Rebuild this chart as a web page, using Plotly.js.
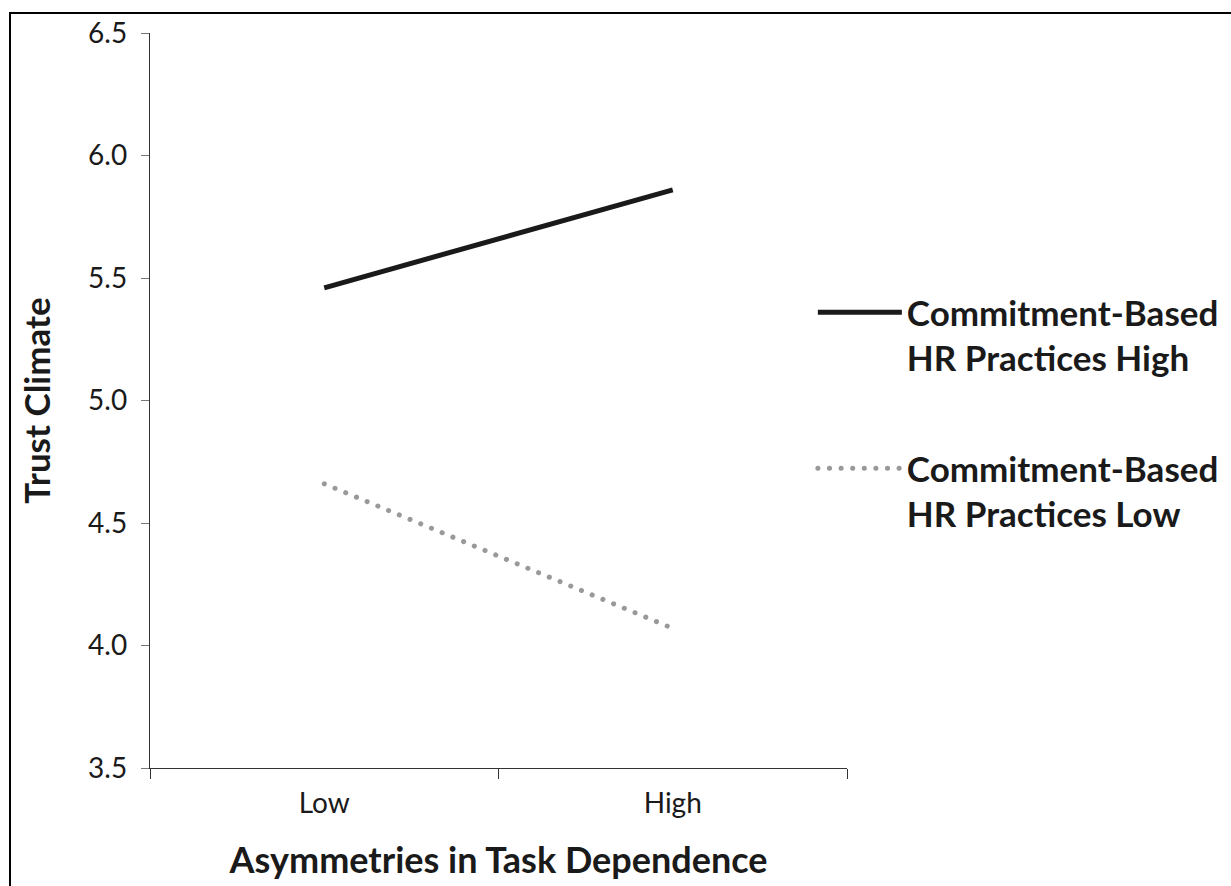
<!DOCTYPE html>
<html>
<head>
<meta charset="utf-8">
<script src="https://cdn.plot.ly/plotly-3.0.1.min.js"></script>
<style>
  html, body { margin: 0; padding: 0; background: #fff; overflow: hidden; }
  #chart { width: 1231px; height: 886px; }
  #frame { position: absolute; left: 9px; top: 12px; width: 1300px; height: 1000px;
           border-left: 2px solid #000; border-top: 2px solid #000; pointer-events: none; }
  #chart path.js-line[style*="0.1px"] { stroke-linecap: round; }
</style>
</head>
<body>
<div id="chart"></div>
<div id="frame"></div>
<script>
const categories = ['Low', 'High'];
const hrHigh = [5.46, 5.86];
const hrLow = [4.66, 4.07];
const seriesNames = ['Commitment-Based<br>HR Practices High', 'Commitment-Based<br>HR Practices Low'];
const yTicks = [3.5, 4.0, 4.5, 5.0, 5.5, 6.0, 6.5];
const yTickText = ['3.5', '4.0', '4.5', '5.0', '5.5', '6.0', '6.5'];

const FONT = 'Lato, "Noto Sans", sans-serif';

const traces = [
  {
    x: categories, y: hrHigh, name: seriesNames[0], type: 'scatter', mode: 'lines',
    line: {color: '#1a1a1a', width: 5}, legendgroup: 'a'
  },
  {
    x: categories, y: hrLow, name: seriesNames[1], type: 'scatter', mode: 'lines',
    line: {color: '#999999', width: 5, dash: '0.1px,11.5px'}, legendgroup: 'b'
  }
];

const layout = {
  width: 1231, height: 886,
  margin: {l: 150, r: 384, t: 33, b: 118, autoexpand: false},
  paper_bgcolor: '#fff', plot_bgcolor: '#fff',
  font: {family: FONT, color: '#1a1a1a'},
  showlegend: true,
  legend: {
    x: 0.951, xanchor: 'left', y: 0.66, yanchor: 'top',
    valign: 'top', itemwidth: 84, traceorder: 'grouped', tracegroupgap: 62,
    font: {family: FONT, size: 35, color: '#1a1a1a', weight: 'bold'},
    bgcolor: 'rgba(0,0,0,0)'
  },
  xaxis: {
    type: 'category', range: [-0.5, 1.5], tickson: 'boundaries',
    ticks: 'outside', ticklen: 10, tickcolor: '#333', tickwidth: 1,
    showline: true, linecolor: '#333', linewidth: 1.2,
    showgrid: false, zeroline: false, ticklabelstandoff: 10,
    tickfont: {family: FONT, size: 28, color: '#1a1a1a'},
    title: {text: '<b>Asymmetries in Task Dependence</b>', standoff: 30,
            font: {family: FONT, size: 36, color: '#1a1a1a'}},
    automargin: false, fixedrange: true
  },
  yaxis: {
    range: [3.5, 6.5], tickvals: yTicks, ticktext: yTickText,
    ticks: 'outside', ticklen: 8, tickcolor: '#777', tickwidth: 1,
    showline: true, linecolor: '#333', linewidth: 1.2,
    showgrid: false, zeroline: false, ticklabelstandoff: 8,
    tickfont: {family: FONT, size: 28, color: '#1a1a1a'},
    title: {text: '<b>Trust Climate</b>', standoff: 26,
            font: {family: FONT, size: 35, color: '#1a1a1a'}},
    automargin: false, fixedrange: true
  }
};

Plotly.newPlot('chart', traces, layout, {staticPlot: true, displayModeBar: false});
</script>
</body>
</html>
